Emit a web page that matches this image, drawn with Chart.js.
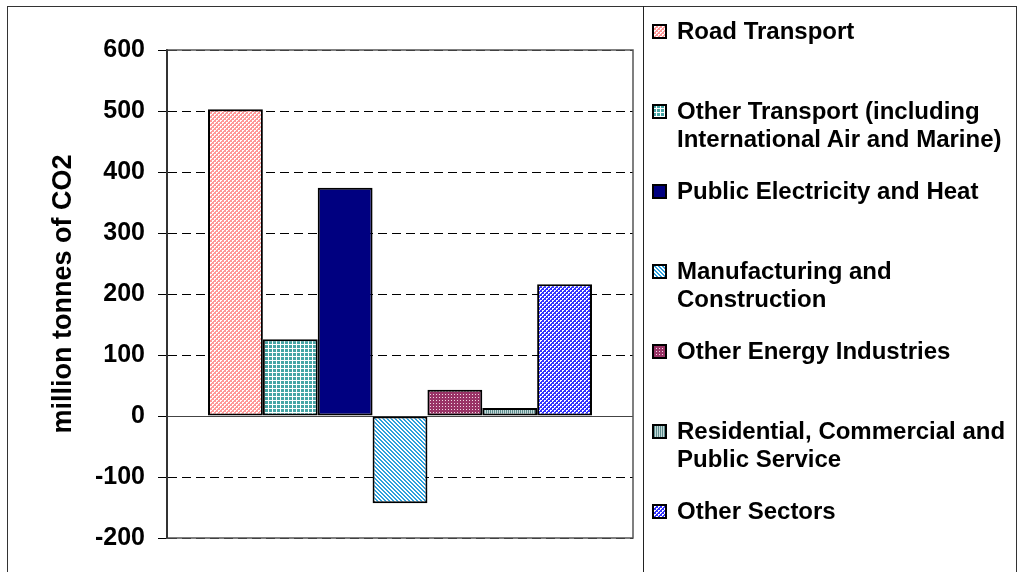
<!DOCTYPE html>
<html>
<head>
<meta charset="utf-8">
<script src="https://cdn.jsdelivr.net/npm/chart.js@4/dist/chart.umd.min.js"></script>
<style>
  body { margin: 0; width: 1018px; height: 572px; overflow: hidden; background: #fff;
         font-family: "Liberation Sans", Arial, sans-serif; }
  #chart { position: absolute; left: 0; top: 0; }
  #frame { position: absolute; left: 7px; top: 6px; width: 1010px; height: 700px;
           border: 1px solid #333; box-sizing: border-box; pointer-events: none; }
  #legend { position: absolute; left: 643px; top: 6px; width: 374px; height: 700px;
            border-left: 1px solid #222; box-sizing: border-box; }
  .item { position: absolute; left: 0; height: 80px; width: 370px; }
  .item canvas { position: absolute; left: 8px; top: 7px; }
  .item div { position: absolute; left: 33px; top: 0; font-weight: bold; font-size: 24px;
              line-height: 28px; white-space: nowrap; color: #000; }
</style>
</head>
<body>
<canvas id="chart" width="1018" height="572"></canvas>
<div id="frame"></div>
<div id="legend"></div>
<script>
// Datos: cambio de emisiones por sector (millones de toneladas de CO2)
const categories = [''];
const sectorLines = [
  ['Road Transport'],
  ['Other Transport (including', 'International Air and Marine)'],
  ['Public Electricity and Heat'],
  ['Manufacturing and', 'Construction'],
  ['Other Energy Industries'],
  ['Residential, Commercial and', 'Public Service'],
  ['Other Sectors'],
];
const changes = [503, 126, 374, -143, 43, 13, 216];
const yMin = -200;
const yMax = 600;
const yStep = 100;
const axisTitle = 'million tonnes of CO2';

// Tramas de relleno tipo Excel
function trama(size, bg, fg, test) {
  const c = document.createElement('canvas');
  c.width = c.height = size;
  const g = c.getContext('2d');
  g.fillStyle = bg;
  g.fillRect(0, 0, size, size);
  g.fillStyle = fg;
  for (let y = 0; y < size; y++)
    for (let x = 0; x < size; x++)
      if (test(x, y)) g.fillRect(x, y, 1, 1);
  return g.createPattern(c, 'repeat');
}

const fills = [
  trama(4, '#FF9999', '#FFFFFF', (x, y) =>
    (x < 2 && y < 2 && !(x === 1 && y === 1)) || (x >= 2 && y >= 2 && !(x === 3 && y === 3))),
  trama(4, '#45A5A5', '#FFFFFF', (x, y) => x === 0 || y === 0),
  '#000080',
  trama(4, '#FFFFFF', '#2EA0DC', (x, y) => ((x - y + 8) % 4) < 2),
  trama(3, '#993366', '#F0D8E4', (x, y) => x === 1 && y === 1),
  trama(2, '#C4D8D8', '#5C8C8C', (x) => x === 0),
  trama(4, '#3333FF', '#FFFFFF', (x, y) =>
    ((x >> 1) + (y >> 1)) % 2 === 0 && !(x % 2 === 1 && y % 2 === 1)),
];

// Leyenda en HTML
const legend = document.getElementById('legend');
sectorLines.forEach((lines, i) => {
  const item = document.createElement('div');
  item.className = 'item';
  item.style.top = (11 + i * 80) + 'px';
  const sw = document.createElement('canvas');
  sw.width = sw.height = 15;
  const g = sw.getContext('2d');
  g.fillStyle = fills[i];
  g.fillRect(0, 0, 15, 15);
  g.strokeStyle = '#000';
  g.lineWidth = 2;
  g.strokeRect(1, 1, 13, 13);
  item.appendChild(sw);
  const txt = document.createElement('div');
  txt.innerHTML = lines.join('<br>');
  item.appendChild(txt);
  legend.appendChild(item);
});

// Marco del área de trazado
const marco = {
  id: 'marco',
  afterDatasetsDraw(chart) {
    const { ctx, chartArea: a } = chart;
    ctx.save();
    ctx.strokeStyle = '#555';
    ctx.lineWidth = 1.5;
    ctx.strokeRect(a.left, a.top, a.right - a.left, a.bottom - a.top);
    ctx.strokeStyle = '#333';
    ctx.lineWidth = 2;
    ctx.beginPath();
    ctx.moveTo(a.left, a.top);
    ctx.lineTo(a.left, a.bottom);
    ctx.stroke();
    ctx.restore();
  },
};

new Chart(document.getElementById('chart'), {
  type: 'bar',
  data: {
    labels: categories,
    datasets: sectorLines.map((lines, i) => ({
      label: lines.join(' '),
      data: [changes[i]],
      backgroundColor: fills[i],
      borderColor: '#000',
      borderWidth: 2,
      borderSkipped: false,
      inflateAmount: 0,
      barPercentage: 1,
      categoryPercentage: 0.824,
    })),
  },
  plugins: [marco],
  options: {
    responsive: false,
    animation: false,
    devicePixelRatio: 1,
    layout: { padding: { left: 0, top: 50, right: 385, bottom: 34 } },
    plugins: { legend: { display: false }, tooltip: { enabled: false } },
    scales: {
      x: { display: false },
      y: {
        min: yMin,
        max: yMax,
        afterFit: s => { s.width = 167; },
        ticks: {
          stepSize: yStep,
          padding: 13,
          color: '#000',
          font: { family: 'Liberation Sans', weight: 'bold', size: 25 },
        },
        grid: {
          color: c => (c.tick && c.tick.value === 0 ? '#444' : '#000'),
          lineWidth: 1,
          tickLength: 9,
          tickColor: '#000',
        },
        border: {
          display: true,
          color: '#333',
          width: 2,
          dash: c => (c.tick && c.tick.value === 0 ? [] : [9, 5]),
        },
        title: {
          display: true,
          text: axisTitle,
          color: '#000',
          padding: { top: 47, bottom: 0 },
          font: { family: 'Liberation Sans', weight: 'bold', size: 27 },
        },
      },
    },
  },
});
</script>
</body>
</html>
